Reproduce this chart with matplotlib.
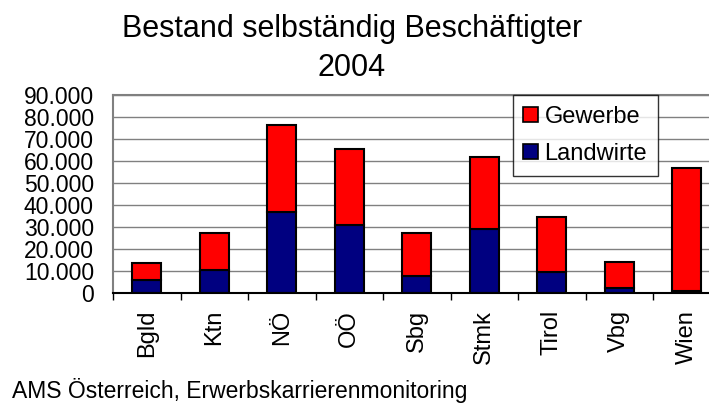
import numpy as np
import matplotlib.pyplot as plt
from matplotlib.patches import Patch
from matplotlib.ticker import FuncFormatter

plt.rcParams['font.family'] = ['Liberation Sans', 'DejaVu Sans']

regions = ["Bgld", "Ktn", "NÖ", "OÖ", "Sbg", "Stmk", "Tirol", "Vbg", "Wien"]
landwirte = [6000, 10600, 36900, 30900, 7900, 29000, 9800, 2400, 900]
gesamt = [13600, 27200, 76300, 65400, 27200, 61700, 34500, 14400, 57000]
gewerbe = [t - l for t, l in zip(gesamt, landwirte)]

RED = "#ff0000"
NAVY = "#000080"

fig = plt.figure(figsize=(7.09, 4.03), dpi=100)
# plot area runs slightly past the right edge, like the original screenshot
ax = fig.add_axes([113 / 709, 1 - 293.3 / 403, 607.5 / 709, 198.3 / 403])

x = np.arange(len(regions))
w = 0.43
ax.bar(x, landwirte, w, color=NAVY, edgecolor="black", linewidth=1.5, zorder=3)
ax.bar(x, gewerbe, w, bottom=landwirte, color=RED, edgecolor="black", linewidth=1.5, zorder=3)

ax.set_xlim(-0.5, len(regions) - 0.5)
ax.set_ylim(0, 90000)
ax.set_yticks(np.arange(0, 90001, 10000))
ax.yaxis.set_major_formatter(FuncFormatter(lambda v, p: f"{int(v):,}".replace(",", ".")))
ax.tick_params(axis="y", length=0, labelsize=16.5, pad=13.7)
ax.grid(axis="y", color="#808080", linewidth=1, zorder=0)

ax.set_xticks(x)
ax.set_xticklabels(regions, rotation=90, fontsize=17)
ax.tick_params(axis="x", which="major", length=0, pad=12)
ax.set_xticks(np.arange(-0.5, len(regions), 1), minor=True)
ax.tick_params(axis="x", which="minor", length=5, width=1, direction="out")

for s in ["top", "left", "right"]:
    ax.spines[s].set_color("#808080")
    ax.spines[s].set_linewidth(1.5)
ax.spines["bottom"].set_color("black")
ax.spines["bottom"].set_linewidth(1.5)
ax.spines["bottom"].set_zorder(4)

handles = [Patch(facecolor=RED, edgecolor="black", linewidth=1.2, label="Gewerbe"),
           Patch(facecolor=NAVY, edgecolor="black", linewidth=1.2, label="Landwirte")]
leg = ax.legend(handles=handles, loc="upper left", bbox_to_anchor=(0.658, 1.0),
                fontsize=17, frameon=True, fancybox=False, edgecolor="black",
                handlelength=0.6, handleheight=0.6, handletextpad=0.3,
                labelspacing=0.65, borderpad=0.45, borderaxespad=0)
leg.get_frame().set_linewidth(1)
leg.set_zorder(5)

fig.text(352 / 709, 1 - 37 / 403, "Bestand selbständig Beschäftigter", ha="center",
         va="baseline", fontsize=22)
fig.text(352 / 709, 1 - 76 / 403, "2004", ha="center", va="baseline", fontsize=22)
fig.text(12 / 709, 1 - 398 / 403, "AMS Österreich, Erwerbskarrierenmonitoring",
         ha="left", va="baseline", fontsize=16.5)

fig.savefig("out.png", dpi=100)
